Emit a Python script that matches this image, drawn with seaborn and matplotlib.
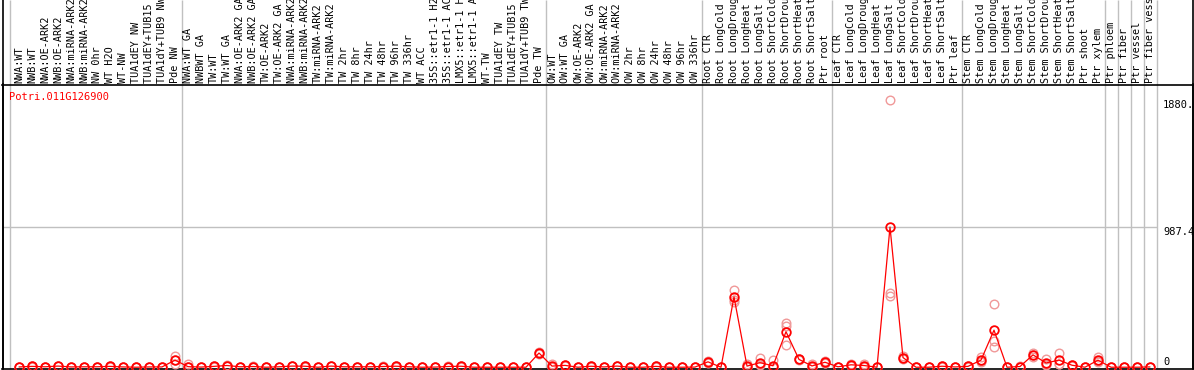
import matplotlib
matplotlib.use("Agg")
import matplotlib.pyplot as plt
import numpy as np
import pandas as pd
import seaborn as sns
from matplotlib.transforms import blended_transform_factory

gene = "Potri.011G126900"

samples = [
    "NWA:WT", "NWB:WT", "NWA:OE-ARK2", "NWB:OE-ARK2", "NWA:miRNA-ARK2", "NWB:miRNA-ARK2",
    "NW 0hr", "WT H2O", "WT-NW", "TUA1dEY NW", "TUA1dEY+TUB15 NW", "TUA1dY+TUB9 NW", "Pde NW",
    "NWA:WT GA", "NWBWT GA", "TW:WT", "TW:WT GA", "NWA:OE-ARK2 GA", "NWB:OE-ARK2 GA",
    "TW:OE-ARK2", "TW:OE-ARK2 GA", "NWA:miRNA-ARK2 GA", "NWB:miRNA-ARK2 GA", "TW:miRNA-ARK2",
    "TW:miRNA-ARK2 GA", "TW 2hr", "TW 8hr", "TW 24hr", "TW 48hr", "TW 96hr", "TW 336hr",
    "WT ACC", "35S::etr1-1 H2O", "35S::etr1-1 ACC", "LMX5::etr1-1 H2O", "LMX5::etr1-1 ACC",
    "WT-TW", "TUA1dEY TW", "TUA1dEY+TUB15 TW", "TUA1dY+TUB9 TW", "Pde TW",
    "OW:WT", "OW:WT GA", "OW:OE-ARK2", "OW:OE-ARK2 GA", "OW:miRNA-ARK2", "OW:miRNA-ARK2 GA",
    "OW 2hr", "OW 8hr", "OW 24hr", "OW 48hr", "OW 96hr", "OW 336hr",
    "Root CTR", "Root LongCold", "Root LongDrought", "Root LongHeat", "Root LongSalt",
    "Root ShortCold", "Root ShortDrought", "Root ShortHeat", "Root ShortSalt", "Ptr root",
    "Leaf CTR", "Leaf LongCold", "Leaf LongDrought", "Leaf LongHeat", "Leaf LongSalt",
    "Leaf ShortCold", "Leaf ShortDrought", "Leaf ShortHeat", "Leaf ShortSalt", "Ptr leaf",
    "Stem CTR", "Stem LongCold", "Stem LongDrought", "Stem LongHeat", "Stem LongSalt",
    "Stem ShortCold", "Stem ShortDrought", "Stem ShortHeat", "Stem ShortSalt", "Ptr shoot",
    "Ptr xylem", "Ptr phloem", "Ptr fiber", "Ptr vessel", "Ptr fiber vessel",
]

means = [
    2, 6, 3, 8, 2, 3, 3, 6, 2, 0, 2, 2, 50,
    4, 1, 6, 12, 3, 5, 0, 3, 8, 7, 0, 8, 3, 3, 3, 5, 7, 3, 0, 1, 5, 7, 0, 0, 0, 0, 0, 100,
    8, 13, 0, 7, 2, 8, 0, 0, 6, 0, 0, 1,
    38, 0, 495, 8, 32, 10, 250, 55, 9, 35,
    3, 17, 12, 0, 987.4, 68, 0, 0, 7, 2,
    6, 50, 261, 0, 5, 87, 30, 50, 14, 0, 50,
    0, 0, 0, 2,
]

rep1 = [
    3, 8, 4, 10, 3, 4, 4, 8, 3, 1, 3, 3, 78,
    22, 2, 8, 15, 4, 7, 1, 4, 10, 9, 1, 10, 4, 4, 4, 7, 9, 4, 1, 2, 7, 9, 1, 1, 1, 1, 1, 104,
    25, 15, 1, 9, 3, 10, 1, 1, 8, 1, 1, 2,
    45, 1, 545, 25, 62, 50, 310, 60, 22, 45,
    5, 25, 20, 1, 1880, 80, 1, 1, 9, 3,
    8, 70, 442, 1, 7, 100, 55, 98, 18, 1, 73,
    1, 1, 1, 3,
]

rep2 = [
    2, 6, 3, 8, 2, 3, 3, 6, 2, 0, 2, 2, 48,
    2, 1, 6, 12, 3, 5, 0, 3, 8, 7, 0, 8, 3, 3, 3, 5, 7, 3, 0, 1, 5, 7, 0, 0, 0, 0, 0, 100,
    5, 13, 0, 7, 2, 8, 0, 0, 6, 0, 0, 1,
    38, 0, 470, 5, 25, 5, 290, 55, 5, 32,
    3, 15, 10, 0, 525, 65, 0, 0, 7, 2,
    6, 45, 188, 0, 5, 85, 20, 25, 14, 0, 45,
    0, 0, 0, 2,
]

rep3 = [
    1, 4, 2, 6, 1, 2, 2, 4, 1, 0, 1, 1, 22,
    0, 0, 4, 9, 2, 3, 0, 2, 6, 5, 0, 6, 2, 2, 2, 3, 5, 2, 0, 0, 3, 5, 0, 0, 0, 0, 0, 96,
    0, 11, 0, 5, 1, 6, 0, 0, 4, 0, 0, 0,
    32, 0, 460, 0, 15, 0, 155, 50, 0, 28,
    1, 10, 5, 0, 505, 60, 0, 0, 5, 1,
    4, 35, 141, 0, 3, 75, 15, 20, 10, 0, 35,
    0, 0, 0, 1,
]

group_breaks = [-0.7, 12.5, 40.5, 52.5, 62.5, 72.5, 83.5, 84.5, 85.5, 86.5, 87.5]
ytick_values = [1880, 987.4, 0]
ytick_labels = ["1880.", "987.4", "0"]
grid_value = 987.4

W, H = 1194, 370
fig = plt.figure(figsize=(W / 100, H / 100), dpi=100)
sns.set_style("white")
plt.rcParams["font.family"] = ["DejaVu Sans Mono", "DejaVu Sans"]

ax_left, ax_right = 2.5, 1192.5
ax_top, ax_bottom = 84.5, 368.5
ax = fig.add_axes([ax_left / W, (H - ax_bottom) / H,
                   (ax_right - ax_left) / W, (ax_bottom - ax_top) / H])
ax_h = ax_bottom - ax_top

x = np.arange(len(samples))
df = pd.DataFrame({"x": x, "mean": means, "r1": rep1, "r2": rep2, "r3": rep3})

rep_color = "#F09898"
for col in ["r1", "r2", "r3"]:
    sns.lineplot(data=df, x="x", y=col, ax=ax, linestyle="none", marker="o",
                 markersize=6.2, markerfacecolor="none", markeredgecolor=rep_color,
                 markeredgewidth=1.0, estimator=None, zorder=3)

sns.lineplot(data=df, x="x", y="mean", ax=ax, color="#FF0000", linewidth=0.9,
             marker="o", markersize=6.2, markerfacecolor="none",
             markeredgecolor="#FF0000", markeredgewidth=1.3, estimator=None, zorder=4)

xl0 = (ax_left - 19) / 13
xl1 = (ax_right - 19) / 13
ax.set_xlim(xl0, xl1)
ax.set_ylim(-9, 1991)

# grid line at top mean value
ax.hlines(grid_value, xl0, group_breaks[-1], color="#C0C0C0", linewidth=1.0, zorder=1)

# group separators, running up through the label band
trans = blended_transform_factory(ax.transData, ax.transAxes)
top_ext = 1 + ax_top / ax_h
ax.vlines(group_breaks, 0, top_ext, transform=trans, color="#C0C0C0",
          linewidth=1.0, clip_on=False, zorder=1)
# outer frame lines extending to the figure top
ax.vlines([0, 1], 0, top_ext, transform=ax.transAxes, color="black",
          linewidth=1.2, clip_on=False, zorder=5)

# sample labels
label_y = 1 + 1.5 / ax_h
for xi, s in zip(x, samples):
    ax.text(xi, label_y, s, transform=trans, rotation=90, ha="center", va="bottom",
            fontsize=7.3, color="black", clip_on=False)

# y tick labels on the right
for v, lab in zip(ytick_values, ytick_labels):
    ax.text(88.0, v, lab, ha="left", va="bottom" if v == 0 else "top",
            fontsize=7.5, color="black")

ax.text((9 - ax_left) / (ax_right - ax_left), 1 - 12.5 / ax_h, gene,
        transform=ax.transAxes, ha="left", va="center", fontsize=7.5, color="#FF0000")

ax.set_xticks([])
ax.set_yticks([])
ax.set_xlabel("")
ax.set_ylabel("")
for sp in ax.spines.values():
    sp.set_visible(True)
    sp.set_color("black")
    sp.set_linewidth(1.2)

fig.savefig("out.png", dpi=100)
